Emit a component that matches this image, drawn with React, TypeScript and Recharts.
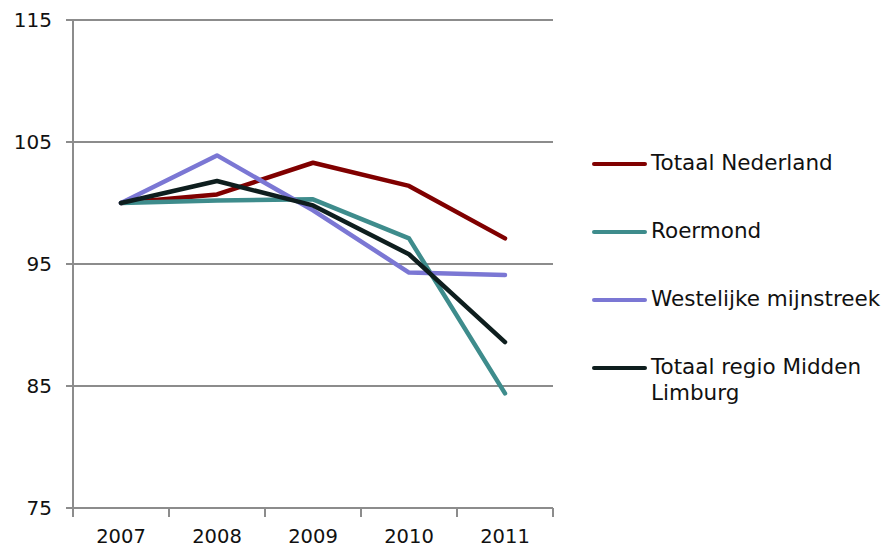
import React from "react";
import { LineChart, Line, XAxis, YAxis, CartesianGrid } from "recharts";

const years = ["2007", "2008", "2009", "2010", "2011"];
const totaalNederland = [100, 100.7, 103.3, 101.4, 97.1];
const roermond = [100, 100.2, 100.3, 97.1, 84.4];
const westelijkeMijnstreek = [100, 103.9, 99.4, 94.3, 94.1];
const totaalRegio = [100, 101.8, 99.8, 95.8, 88.6];
const yTicks = [75, 85, 95, 105, 115];

const series = [
  { key: "ned", name: "Totaal Nederland", values: totaalNederland, color: "#800000" },
  { key: "roe", name: "Roermond", values: roermond, color: "#3E8C8C" },
  { key: "wes", name: "Westelijke mijnstreek", values: westelijkeMijnstreek, color: "#7B77D4" },
  { key: "reg", name: "Totaal regio Midden Limburg", values: totaalRegio, color: "#0E1E1E" },
];

const data = years.map((year, i) => {
  const row: Record<string, string | number> = { year };
  series.forEach((s) => {
    row[s.key] = s.values[i];
  });
  return row;
});

const FONT = "'DejaVu Sans', Verdana, sans-serif";
const AXIS = "#8c8c8c";
const STEP = 96;

const XTick = (props: any) => {
  const { x, y, payload, index } = props;
  const last = index === years.length - 1;
  return (
    <g>
      <line x1={x - STEP / 2} y1={y - 8} x2={x - STEP / 2} y2={y + 1} stroke={AXIS} strokeWidth={2} />
      {last && (
        <line x1={x + STEP / 2} y1={y - 8} x2={x + STEP / 2} y2={y + 1} stroke={AXIS} strokeWidth={2} />
      )}
      <text x={x} y={y + 27} textAnchor="middle" fontSize={19.5} fontFamily={FONT} fill="#111">
        {payload.value}
      </text>
    </g>
  );
};

export default function App() {
  return (
    <div style={{ position: "absolute", left: 0, top: 0, width: 887, height: 547, background: "#fff" }}>
      <LineChart
        width={887}
        height={547}
        data={data}
        margin={{ top: 20, right: 334, bottom: 0, left: 0 }}
      >
        <CartesianGrid vertical={false} stroke={AXIS} strokeWidth={2} />
        <XAxis
          dataKey="year"
          padding={{ left: STEP / 2, right: STEP / 2 }}
          axisLine={{ stroke: AXIS, strokeWidth: 2 }}
          tickLine={false}
          tick={<XTick />}
          height={39}
          interval={0}
        />
        <YAxis
          domain={[75, 115]}
          ticks={yTicks}
          width={73}
          axisLine={{ stroke: AXIS, strokeWidth: 2 }}
          tickLine={{ stroke: AXIS, strokeWidth: 2 }}
          tickSize={7}
          tickMargin={14}
          tick={{ fontSize: 20, fontFamily: FONT, fill: "#111" }}
        />
        {series.map((s) => (
          <Line
            key={s.key}
            dataKey={s.key}
            name={s.name}
            type="linear"
            stroke={s.color}
            strokeWidth={4.5}
            strokeLinecap="round"
            strokeLinejoin="round"
            dot={false}
            activeDot={false}
            isAnimationActive={false}
          />
        ))}
      </LineChart>
      <div style={{ position: "absolute", left: 592, top: 150, width: 295, fontFamily: FONT, fontSize: 21.5, color: "#111" }}>
        {series.map((s) => (
          <div key={s.key} style={{ display: "flex", alignItems: "flex-start", height: 68 }}>
            <div
              style={{
                width: 55,
                height: 4,
                borderRadius: 2,
                background: s.color,
                marginTop: 12,
                marginRight: 4,
                flexShrink: 0,
              }}
            />
            <div style={{ width: 236, lineHeight: "26px", whiteSpace: "normal" }}>{s.name}</div>
          </div>
        ))}
      </div>
    </div>
  );
}
